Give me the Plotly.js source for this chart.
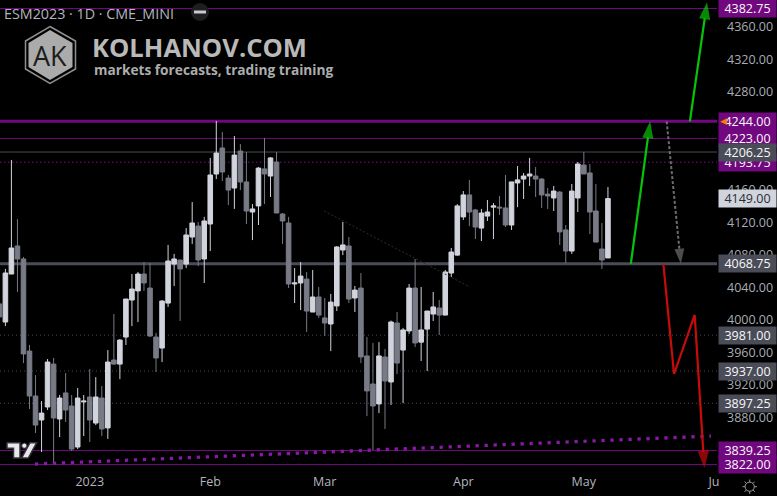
<!DOCTYPE html>
<html><head><meta charset="utf-8">
<script src="https://cdn.plot.ly/plotly-3.0.1.min.js"></script>
<style>html,body{margin:0;padding:0;background:#000;overflow:hidden}#c{width:777px;height:496px}</style>
</head><body><div id="c"></div>
<script>
// Daily candles (session index, first visible bar is -1)
const open_=[4019.5,3997.25,4056.25,4090.75,4074.75,3961.5,3906.25,3876.75,3892.75,3945.5,3878,3910,3894,3843.5,3899,3905,3873,3903.75,3867,3950.5,3945.5,3978.75,4024.25,4035.5,4056.25,4039,3978.75,3965.25,4020.5,4068.5,4073.5,4068.5,4101.75,4115.25,4074.75,4117.75,4179.25,4211.25,4174.25,4162,4207.5,4169.5,4132.5,4140,4185.5,4176.75,4194,4130,4119,4044,4045.25,4050,4009.5,4028,4002.25,3994.75,4017,4085.75,4090.75,4026.75,4039,3955.5,3921,3896.5,3954.25,3923.5,3996,3962.75,3986.25,4039,3972.5,3988.5,4007,4014.5,4005.75,4057.5,4079.5,4126.5,4153.5,4135,4112.75,4127.5,4138.5,4138.5,4137.5,4116.5,4168.25,4173,4176.75,4176.75,4173,4154.5,4149.75,4157,4110.5,4084.5,4149.75,4190.25,4180.5,4133.75,4087,4076];
const high_=[4024.25,4062.5,4196.5,4123.75,4077.25,3969,3932,3900,3951.75,3953,3907.5,3934.5,3907.5,3916,3907.5,3939.5,3929.5,3918.5,3962.75,4007,3976.25,4025.5,4056.25,4058.75,4071,4069.75,3983.75,4024.25,4092,4081,4073.5,4112.75,4144.75,4120.25,4126.5,4199,4244.5,4231,4178,4226,4216,4206.25,4142.25,4187.75,4223.5,4200,4206.25,4131.25,4126.5,4063.5,4071,4058.75,4061.25,4040.25,4026.75,4031.75,4090.75,4120.25,4101.75,4041.5,4057.5,3978.75,3971.5,3972.5,3964,3999,4009.5,3990,4044,4074.75,4040.25,4010.75,4034.25,4024.25,4061.25,4088.25,4142.25,4158.25,4172,4136.25,4136.25,4147.25,4143.5,4152.25,4178,4169.5,4189,4180.5,4199,4187.75,4174.25,4162,4164.5,4158.25,4116.5,4167,4194,4206.25,4191.5,4167,4119,4163.25];
const low_=[3999.75,3992.25,4056.25,4034.25,3946.75,3890.25,3860.75,3837.5,3889,3824,3855.75,3874.25,3838.5,3841,3857,3849.75,3870.5,3857,3853.5,3944.5,3927,3969,3992.25,3997.25,4035.5,3978.75,3935.75,3948,4015.75,4041.5,3998.5,4063.5,4093.25,4066,4045.25,4084.5,4173,4170.5,4141,4136.25,4159.5,4117.75,4098,4116.5,4142.25,4151,4131.25,4093.25,4039,4020.5,4012,3985,4009.5,4002.25,3980,3961.5,4010.75,4079.5,4020.5,4009.5,3946.75,3881.5,3839.75,3885.25,3865.75,3895.25,3933.25,3897.5,3982.5,3966.5,3949.25,3937,3998.5,3981.25,4005.75,4052.5,4078.5,4122.75,4115.25,4099.25,4096.75,4121.5,4099.25,4128.75,4114,4110.5,4138.5,4148.5,4164.5,4151,4137.5,4136.25,4133.75,4092,4069.75,4081,4132.5,4179.25,4105.5,4095.5,4062.5,4076];
const close_=[4003.5,4057.5,4088.25,4074.75,3958,3906.25,3870.5,3885.25,3948,3879.25,3903.75,3889,3841,3903.75,3900,3876.75,3905,3865.75,3948,3945.5,3975,4025.5,4037.75,4056.25,4045.25,3980,3953,4023,4072.25,4074.75,4062.5,4104.25,4119,4073.5,4121.5,4178,4205,4181.75,4159.5,4202.5,4169.5,4133.75,4136.25,4186.5,4179.25,4199,4131.25,4121.5,4044,4045.25,4053.75,4010.75,4028,4005.75,3996,4021.75,4089.5,4092,4025.5,4036.5,3954.25,3912.5,3894,3955.5,3924.75,3997.25,3946.75,3987.5,4039,3971.5,3987.5,4010.75,4015.75,4005.75,4058.75,4083.25,4140,4153.5,4132.5,4114,4131.25,4132.5,4140,4137.5,4116.5,4169.5,4172,4176.75,4179.25,4173,4153.5,4152.25,4158.25,4108,4084.5,4158.25,4191.5,4179.25,4132.5,4095.5,4073.5,4149];
const firstIndex=-1;

// Horizontal levels
const purpleSolid=[4382.75,4223,3839.25,3822];
const purpleThick=[4244];
const purpleDotted=[4193.75];
const graySolid=[4206.25];
const grayThick=[4068.75];
const grayDotted=[3981,3937,3897.25];

// Drawn trend lines and forecast paths
const risingDotsX=[4.9,117.1], risingDotsY=[3822.6,3857];
const wedgeX=[52.9,77.1], wedgeY=[4133.75,4040.25];
const green1X=[103.8,107.0], green1Y=[4068.75,4244];
const green2X=[113.6,116.45], green2Y=[4244,4390.5];
const grayArrowX=[109.75,112.1], grayArrowY=[4244,4068.75];
const redX=[109.2,110.97,114.4,116.0], redY=[4068.75,3933.3,4005.9,3817.7];

// Axis ticks
const yTicks=[4360,4320,4280,4160,4120,4080,4040,4000,3960,3920,3880];
const xTickVals=[14,34,53,76,96,117.6];
const xTickText=['2023','Feb','Mar','Apr','May','Ju'];

// Price scale tags
const tagPurple=[4382.75,4244,4223,4193.75,3839.25,3822];
const tagGray=[4206.25,4068.75,3981,3937,3897.25];
const tagLast=[4149];

const xMin=-0.896,xMax=118.1,yMin=3812.8,yMax=4393.2;
const W=717,H=472;
const PURPLE='#72087f',GRAYLV='#4a4c57',FONT='"Open Sans","Noto Sans",sans-serif';
const idx=open_.map((_,i)=>firstIndex+i);

function hline(vals,color,width,dash){
  return vals.map(v=>({type:'line',xref:'paper',yref:'y',x0:0,x1:1,y0:v,y1:v,layer:'below',
    line:{color:color,width:width,dash:dash||'solid'}}));
}
function arrow(xs,ys,color,dash,size,lw){
  const sizes=xs.map((_,i)=>i===xs.length-1?size:0);
  return {type:'scatter',mode:'lines+markers',x:xs,y:ys,hoverinfo:'skip',cliponaxis:false,
    line:{color:color,width:lw,dash:dash||'solid'},
    marker:{symbol:'arrow',size:sizes,color:color,angleref:'previous',line:{width:0}}};
}
const traces=[
  {type:'candlestick',x:idx,open:open_,high:high_,low:low_,close:close_,hoverinfo:'skip',
    increasing:{line:{color:'#d1d4dc',width:1},fillcolor:'#d1d4dc'},
    decreasing:{line:{color:'#787b86',width:1},fillcolor:'#787b86'}},
  {type:'scatter',mode:'lines',x:wedgeX,y:wedgeY,hoverinfo:'skip',line:{color:'#2e2e2e',width:1,dash:'2px,2px'}},
  {type:'scatter',mode:'lines',x:risingDotsX,y:risingDotsY,hoverinfo:'skip',line:{color:'#8a18a6',width:3.3,dash:'3.3px,5.7px'}},
  arrow(green1X,green1Y,'#08c408','solid',18,2.2),
  arrow(green2X,green2Y,'#08c408','solid',18,2.2),
  arrow(grayArrowX,grayArrowY,'#6e6e6e','3px,2px',16,2),
  arrow(redX,redY,'#c80b0b','solid',18,2.2)
];
const px=(x,y)=>[x/W,1-y/H];
function path(pts,close){
  return pts.map((p,i)=>{const q=px(p[0],p[1]);return (i?'L':'M')+q[0]+','+q[1];}).join(' ')+(close?' Z':'');
}
function poly(pts,fill,lineCol,lw){
  return {type:'path',xref:'paper',yref:'paper',layer:'above',path:path(pts,true),fillcolor:fill,
    line:{color:lineCol||fill,width:lw===undefined?0:lw}};
}
function circ(cx,cy,r,fill,lineCol,lw){
  const a=px(cx-r,cy+r),b=px(cx+r,cy-r);
  return {type:'circle',xref:'paper',yref:'paper',layer:'above',x0:a[0],y0:a[1],x1:b[0],y1:b[1],
    fillcolor:fill,line:{color:lineCol||fill,width:lw||0}};
}
function ray(x0,y0,x1,y1){
  const a=px(x0,y0),b=px(x1,y1);
  return {type:'line',xref:'paper',yref:'paper',layer:'above',x0:a[0],y0:a[1],x1:b[0],y1:b[1],line:{color:'#9a9ca3',width:1}};
}
const shapes=[].concat(
  hline(grayDotted,'#43444a',1,'1px,3px'),
  hline(purpleDotted,'#7d0f8c',1,'1.5px,2.5px'),
  hline(graySolid,GRAYLV,1),
  hline(purpleSolid,PURPLE,1),
  hline(purpleThick,PURPLE,3),
  hline(grayThick,GRAYLV,3),
  [
  poly([[50,26.5],[75.5,41],[75.5,69],[50,83.5],[25.5,69],[25.5,41]],'rgba(0,0,0,0)','#8f8f8f',1.5),
  poly([[50,30],[72.5,43],[72.5,67],[50,80],[28.5,67],[28.5,43]],'#ababab'),
  circ(200,12,9,'#1e1e1f'),
  poly([[194,10.5],[206,10.5],[206,13.5],[194,13.5]],'#c9cad0'),
  poly([[7,442.7],[20,442.7],[20,458],[13.5,458],[13.5,448.3],[7,448.3]],'#e8e8ec','#333338',1.5),
  circ(24.3,445.7,2.6,'#e8e8ec','#333338',1),
  poly([[30,442.7],[36.7,442.7],[28.3,458],[21.7,458]],'#e8e8ec','#333338',1.5),
  circ(749.7,486.7,4.6,'rgba(0,0,0,0)','#9a9ca3',1),
  ray(749.7,479.5,749.7,482),ray(749.7,491.4,749.7,494),
  ray(742.5,486.7,745,486.7),ray(754.4,486.7,757,486.7),
  ray(744.6,481.6,746.4,483.4),ray(753,490,754.8,491.8),
  ray(754.8,481.6,753,483.4),ray(746.4,490,744.6,491.8)
  ]
);
const tagX=718/W;
function tag(v,bg,fg){
  return {xref:'paper',yref:'y',x:tagX,y:v,xanchor:'left',yanchor:'middle',text:v.toFixed(2),showarrow:false,
    width:57,height:17,bgcolor:bg,borderpad:0,align:'center',font:{family:FONT,size:12.5,color:fg}};
}
const annotations=[].concat(
  tagPurple.map(v=>tag(v,PURPLE,'#f8f8fa')),
  tagGray.map(v=>tag(v,GRAYLV,'#f8f8fa')),
  tagLast.map(v=>tag(v,'#d1d4dc','#2a2e39')),
  [{xref:'paper',yref:'y',x:719/W,y:4244,xanchor:'left',yanchor:'middle',text:'◀',showarrow:false,borderpad:0,
    font:{family:'DejaVu Sans',size:9,color:'#f57c00'}},
   {xref:'paper',yref:'paper',x:3/W,y:1-13/H,xanchor:'left',yanchor:'middle',text:'ESM2023 · 1D · CME_MINI',showarrow:false,borderpad:0,
    font:{family:FONT,size:14.3,color:'#b2b5be'}},
   {xref:'paper',yref:'paper',x:91/W,y:1-48/H,xanchor:'left',yanchor:'middle',text:'<b>KOLHANOV.COM</b>',showarrow:false,borderpad:0,
    font:{family:FONT,size:25.6,color:'#b9b9b9'}},
   {xref:'paper',yref:'paper',x:92.5/W,y:1-69.5/H,xanchor:'left',yanchor:'middle',text:'<b>markets forecasts, trading training</b>',showarrow:false,borderpad:0,
    font:{family:FONT,size:13.7,color:'#adadad'}},
   {xref:'paper',yref:'paper',x:50/W,y:1-55/H,xanchor:'center',yanchor:'middle',text:'AK',showarrow:false,borderpad:0,
    font:{family:FONT,size:27,color:'#1d1d1d'}}]
);
Plotly.newPlot('c',traces,{
  width:777,height:496,showlegend:false,paper_bgcolor:'#000',plot_bgcolor:'#000',
  margin:{l:0,r:60,t:0,b:24,pad:0},boxgap:0.24,boxgroupgap:0,
  xaxis:{range:[xMin,xMax],rangeslider:{visible:false},showgrid:false,zeroline:false,showline:false,ticks:'',
    tickmode:'array',tickvals:xTickVals,ticktext:xTickText,tickfont:{family:FONT,size:12.5,color:'#b2b5be'}},
  yaxis:{range:[yMin,yMax],side:'right',showgrid:false,zeroline:false,showline:false,ticks:'',
    tickmode:'array',tickvals:yTicks,ticktext:yTicks.map(v=>v.toFixed(2)),ticklabelstandoff:9,
    tickfont:{family:FONT,size:12.5,color:'#a9acb4'}},
  shapes:shapes,annotations:annotations,hovermode:false
},{displayModeBar:false,staticPlot:true});
</script></body></html>
